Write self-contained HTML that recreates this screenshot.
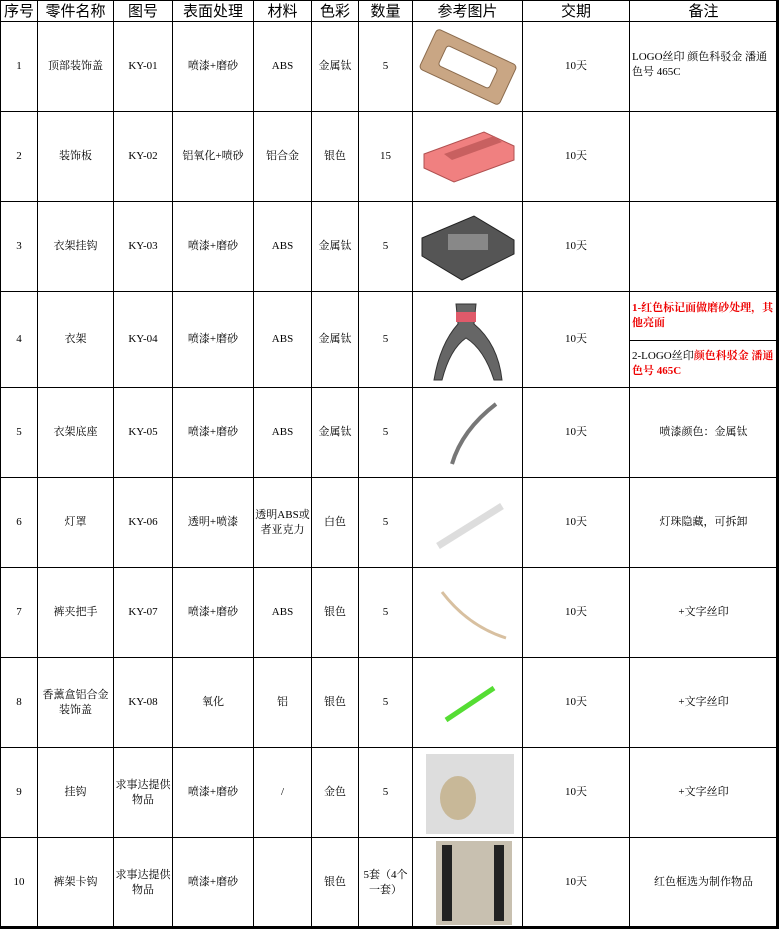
<!DOCTYPE html>
<html><head><meta charset="utf-8"><style>
body{margin:0;background:#fff;width:781px;height:932px;overflow:hidden;font-family:"Liberation Serif","Noto Serif CJK SC",serif;}
.row{position:absolute;left:0;display:flex;}
.row>div{box-sizing:border-box;border-right:1px solid #000;border-bottom:1px solid #000;display:flex;align-items:center;justify-content:center;text-align:center;font-size:11px;line-height:15px;overflow:hidden;height:100%;}
.row>div:nth-child(1){width:38px;border-left:1px solid #000}
.row>div:nth-child(2){width:76px}
.row>div:nth-child(3){width:59px}
.row>div:nth-child(4){width:81px}
.row>div:nth-child(5){width:58px}
.row>div:nth-child(6){width:47px}
.row>div:nth-child(7){width:54px}
.row>div:nth-child(8){width:110px}
.row>div:nth-child(9){width:107px}
.row>div:nth-child(10){width:148px}
.h>div{font-size:15px;font-family:"Liberation Sans","Noto Sans CJK SC",sans-serif;border-top:1px solid #000}
.l{justify-content:flex-start !important;text-align:left !important;padding-left:2px;}
.red{color:#e00;font-weight:bold;}
.outer{position:absolute;left:776px;top:0;width:1px;height:928px;border-left:3px double #000;}
.outb{position:absolute;left:0;top:926px;width:779px;height:1px;border-top:3px double #000;}
</style></head><body>
<div class="row h" style="top:0;height:22px"><div>序号</div><div>零件名称</div><div>图号</div><div>表面处理</div><div>材料</div><div>色彩</div><div>数量</div><div>参考图片</div><div>交期</div><div>备注</div></div>
<div class="row" style="top:22px;height:90px"><div>1</div><div>顶部装饰盖</div><div>KY-01</div><div>喷漆+磨砂</div><div>ABS</div><div>金属钛</div><div>5</div><div><svg width="100" height="86"><g transform="translate(50,43) rotate(25)"><rect x="-44" y="-22" width="88" height="44" rx="4" fill="#c9a684" stroke="#8a6a4c"/><rect x="-28" y="-11" width="56" height="22" rx="3" fill="#fff" stroke="#8a6a4c"/></g></svg></div><div>10天</div><div class="l" style="align-items:flex-start;padding-top:28px">LOGO丝印 颜色科驳金 潘通色号 465C</div></div>
<div class="row" style="top:112px;height:90px"><div>2</div><div>装饰板</div><div>KY-02</div><div>铝氧化+喷砂</div><div>铝合金</div><div>银色</div><div>15</div><div><svg width="100" height="86"><polygon points="6,40 66,18 96,32 96,46 36,68 6,54" fill="#f08080" stroke="#b05050"/><polygon points="26,40 76,22 84,28 34,46" fill="#c86060"/></svg></div><div>10天</div><div></div></div>
<div class="row" style="top:202px;height:90px"><div>3</div><div>衣架挂钩</div><div>KY-03</div><div>喷漆+磨砂</div><div>ABS</div><div>金属钛</div><div>5</div><div><svg width="100" height="86"><polygon points="4,34 56,12 96,36 96,50 44,76 4,52" fill="#555" stroke="#222"/><rect x="30" y="30" width="40" height="16" fill="#888"/></svg></div><div>10天</div><div></div></div>
<div class="row" style="top:292px;height:96px"><div>4</div><div>衣架</div><div>KY-04</div><div>喷漆+磨砂</div><div>ABS</div><div>金属钛</div><div>5</div><div><svg width="100" height="92"><path d="M38 10 L58 10 L56 30 Q80 50 84 86 L76 86 Q66 55 48 44 Q32 55 24 86 L16 86 Q22 50 40 30Z" fill="#666" stroke="#333"/><rect x="38" y="18" width="20" height="10" fill="#e05a6a"/></svg></div><div>10天</div><div style="flex-direction:column;align-items:stretch"><div class="l red" style="height:49px;box-sizing:border-box;border-bottom:1px solid #000;display:flex;align-items:center">1-红色标记面做磨砂处理，其他亮面</div><div class="l" style="flex:1;display:flex;align-items:center"><span>2-LOGO丝印<span class="red">颜色科驳金 潘通色号 465C</span></span></div></div></div>
<div class="row" style="top:388px;height:90px"><div>5</div><div>衣架底座</div><div>KY-05</div><div>喷漆+磨砂</div><div>ABS</div><div>金属钛</div><div>5</div><div><svg width="100" height="86"><path d="M34 74 Q44 40 78 14" stroke="#777" stroke-width="4" fill="none"/></svg></div><div>10天</div><div>喷漆颜色：金属钛</div></div>
<div class="row" style="top:478px;height:90px"><div>6</div><div>灯罩</div><div>KY-06</div><div>透明+喷漆</div><div>透明ABS或者亚克力</div><div>白色</div><div>5</div><div><svg width="100" height="86"><path d="M20 66 L84 26" stroke="#ddd" stroke-width="7" fill="none"/></svg></div><div>10天</div><div>灯珠隐藏，可拆卸</div></div>
<div class="row" style="top:568px;height:90px"><div>7</div><div>裤夹把手</div><div>KY-07</div><div>喷漆+磨砂</div><div>ABS</div><div>银色</div><div>5</div><div><svg width="100" height="86"><path d="M24 22 Q50 56 88 68" stroke="#d8c0a0" stroke-width="3" fill="none"/></svg></div><div>10天</div><div>+文字丝印</div></div>
<div class="row" style="top:658px;height:90px"><div>8</div><div>香薰盒铝合金装饰盖</div><div>KY-08</div><div>氧化</div><div>铝</div><div>银色</div><div>5</div><div><svg width="100" height="86"><path d="M28 60 L76 28" stroke="#55dd33" stroke-width="5" fill="none"/></svg></div><div>10天</div><div>+文字丝印</div></div>
<div class="row" style="top:748px;height:90px"><div>9</div><div>挂钩</div><div>求事达提供物品</div><div>喷漆+磨砂</div><div>/</div><div>金色</div><div>5</div><div><svg width="100" height="86"><rect x="8" y="4" width="88" height="80" fill="#ddd"/><ellipse cx="40" cy="48" rx="18" ry="22" fill="#c8b898"/></svg></div><div>10天</div><div>+文字丝印</div></div>
<div class="row" style="top:838px;height:90px"><div>10</div><div>裤架卡钩</div><div>求事达提供物品</div><div>喷漆+磨砂</div><div></div><div>银色</div><div>5套（4个一套）</div><div><svg width="100" height="88"><rect x="18" y="2" width="76" height="84" fill="#c8c0b0"/><rect x="24" y="6" width="10" height="76" fill="#222"/><rect x="76" y="6" width="10" height="76" fill="#222"/></svg></div><div>10天</div><div>红色框选为制作物品</div></div>
<div class="outer"></div><div class="outb"></div>
</body></html>
